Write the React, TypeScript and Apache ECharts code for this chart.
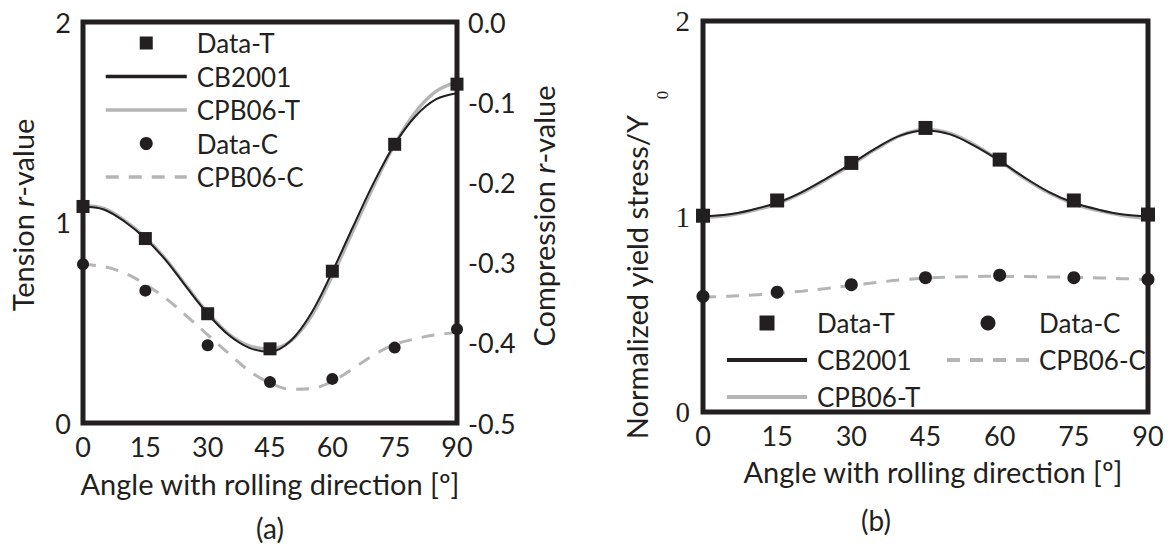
import React, { useEffect, useRef } from "react";
import * as echarts from "echarts";

const angles = [0, 15, 30, 45, 60, 75, 90];
const curveAngles = [0, 5, 10, 15, 20, 25, 30, 35, 40, 45, 50, 55, 60, 65, 70, 75, 80, 85, 90];

// Panel (a): r-values
const rDataT = [1.08, 0.92, 0.545, 0.37, 0.757, 1.39, 1.69];
const rCB2001 = [1.08, 1.065, 1.005, 0.92, 0.81, 0.675, 0.545, 0.44, 0.375, 0.355, 0.41, 0.55, 0.755, 0.98, 1.2, 1.39, 1.53, 1.615, 1.645];
const rCPB06T = [1.085, 1.07, 1.01, 0.925, 0.815, 0.68, 0.55, 0.445, 0.385, 0.37, 0.41, 0.535, 0.735, 0.96, 1.185, 1.39, 1.55, 1.655, 1.7];
const rDataC = [-0.302, -0.335, -0.403, -0.449, -0.445, -0.406, -0.383];
const rCPB06C = [-0.302, -0.305, -0.313, -0.327, -0.345, -0.367, -0.39, -0.413, -0.435, -0.45, -0.458, -0.457, -0.448, -0.432, -0.415, -0.402, -0.395, -0.39, -0.387];

// Panel (b): normalized yield stress
const yDataT = [1.004, 1.082, 1.274, 1.453, 1.291, 1.082, 1.01];
const yCB2001 = [1.0, 1.01, 1.035, 1.07, 1.125, 1.195, 1.27, 1.35, 1.415, 1.44, 1.42, 1.36, 1.285, 1.2, 1.125, 1.07, 1.035, 1.01, 1.0];
const yCPB06T = [0.995, 1.005, 1.03, 1.065, 1.12, 1.19, 1.265, 1.345, 1.415, 1.445, 1.425, 1.365, 1.285, 1.195, 1.12, 1.065, 1.03, 1.005, 0.99];
const yDataC = [0.592, 0.613, 0.651, 0.687, 0.7, 0.687, 0.678];
const yCPB06C = [0.588, 0.592, 0.598, 0.607, 0.618, 0.632, 0.647, 0.662, 0.676, 0.685, 0.69, 0.693, 0.694, 0.693, 0.691, 0.689, 0.686, 0.682, 0.678];

const xTicks = { min: 0, max: 90, interval: 15 };

const INK = "#231f20";
const GRAY = "#b5b5b5";
const FONT = "Lato";
const SQUARE = "path://M0 0H10V10H0Z";
const TICK_SIZE = 27;
const LEGEND_SIZE = 26;
const TITLE_SIZE = 29;

const pairs = (xs: number[], ys: number[]) => xs.map((x, i) => [x, ys[i]]);

export default function App() {
  const ref = useRef<HTMLDivElement>(null);
  useEffect(() => {
    if (!ref.current) return;
    const chart = echarts.init(ref.current, undefined, { renderer: "svg" });

    const xAxisBase = (gridIndex: number) => ({
      type: "value",
      gridIndex,
      ...xTicks,
      axisLine: { show: false },
      axisTick: { show: false },
      splitLine: { show: false },
      axisLabel: { fontSize: TICK_SIZE, fontFamily: FONT, color: INK, margin: 10 },
    });

    const lineSeries = (name: string, xAxisIndex: number, yAxisIndex: number, data: number[][], color: string, width: number, dash?: number[], z = 2) => ({
      name,
      type: "line",
      xAxisIndex,
      yAxisIndex,
      data,
      smooth: 0.35,
      symbol: "none",
      showSymbol: false,
      clip: false,
      z,
      lineStyle: { color, width, type: dash ? dash : "solid" },
      itemStyle: { color: "rgba(0,0,0,0)", borderWidth: 0, borderColor: "rgba(0,0,0,0)" },
    });

    const scatterSeries = (name: string, xAxisIndex: number, yAxisIndex: number, data: number[][], symbol: string, size: number) => ({
      name,
      type: "scatter",
      xAxisIndex,
      yAxisIndex,
      data,
      symbol,
      symbolSize: size,
      clip: false,
      z: 5,
      itemStyle: { color: INK, opacity: 1 },
    });

    const legendText = { fontSize: LEGEND_SIZE, fontFamily: FONT, color: INK, padding: [0, 0, 0, 5] };
    const lineItem = (name: string, width: number) => ({ name, itemStyle: { opacity: 0 }, lineStyle: { width } });

    const option: any = {
      animation: false,
      backgroundColor: "#ffffff",
      grid: [
        { left: 83, top: 22, width: 374, height: 401, show: true, borderWidth: 5, borderColor: INK, backgroundColor: "transparent" },
        { left: 703, top: 21, width: 445, height: 391, show: true, borderWidth: 5, borderColor: INK, backgroundColor: "transparent" },
      ],
      xAxis: [xAxisBase(0), xAxisBase(1)],
      yAxis: [
        {
          type: "value",
          gridIndex: 0,
          min: 0,
          max: 2,
          interval: 1,
          axisLine: { show: false },
          axisTick: { show: false },
          splitLine: { show: false },
          axisLabel: { fontSize: TICK_SIZE, fontFamily: FONT, color: INK, margin: 12 },
        },
        {
          type: "value",
          gridIndex: 0,
          position: "right",
          min: -0.5,
          max: 0,
          interval: 0.1,
          axisLine: { show: false },
          axisTick: { show: false },
          splitLine: { show: false },
          axisLabel: {
            fontSize: TICK_SIZE,
            fontFamily: FONT,
            color: INK,
            margin: 11,
            formatter: (v: number) => (Math.abs(v) < 1e-9 ? "0.0" : v.toFixed(1)),
          },
        },
        {
          type: "value",
          gridIndex: 1,
          min: 0,
          max: 2,
          interval: 1,
          axisLine: { show: false },
          axisTick: { show: false },
          splitLine: { show: false },
          axisLabel: { fontSize: 29, fontFamily: "Liberation Serif", color: INK, margin: 13 },
        },
      ],
      legend: [
        {
          orient: "vertical",
          left: 99,
          top: 25,
          itemWidth: 81,
          itemHeight: 13,
          itemGap: 7.5,
          selectedMode: false,
          textStyle: legendText,
          data: [
            { name: "Data-T", icon: SQUARE },
            lineItem("CB2001", 3.5),
            lineItem("CPB06-T", 3.5),
            { name: "Data-C", icon: "circle" },
            lineItem("CPB06-C", 3.5),
          ],
        },
        {
          orient: "vertical",
          left: 720,
          top: 305,
          itemWidth: 80,
          itemHeight: 15,
          itemGap: 11,
          selectedMode: false,
          textStyle: legendText,
          data: [{ name: "Data-T", icon: SQUARE }, lineItem("CB2001", 4), lineItem("CPB06-T", 4)],
        },
        {
          orient: "vertical",
          left: 940,
          top: 305,
          itemWidth: 82,
          itemHeight: 15,
          itemGap: 11,
          selectedMode: false,
          textStyle: legendText,
          data: [{ name: "Data-C", icon: "circle" }, lineItem("CPB06-C", 4)],
        },
      ],
      series: [
        // Panel (a)
        lineSeries("CPB06-T", 0, 0, pairs(curveAngles, rCPB06T), GRAY, 3.5, undefined, 2),
        lineSeries("CB2001", 0, 0, pairs(curveAngles, rCB2001), INK, 2, undefined, 3),
        lineSeries("CPB06-C", 0, 1, pairs(curveAngles, rCPB06C), GRAY, 3, [13, 10], 2),
        scatterSeries("Data-T", 0, 0, pairs(angles, rDataT), "rect", 13),
        scatterSeries("Data-C", 0, 1, pairs(angles, rDataC), "circle", 12),
        // Panel (b)
        lineSeries("CPB06-T", 1, 2, pairs(curveAngles, yCPB06T), GRAY, 3.5, undefined, 2),
        lineSeries("CB2001", 1, 2, pairs(curveAngles, yCB2001), INK, 2, undefined, 3),
        lineSeries("CPB06-C", 1, 2, pairs(curveAngles, yCPB06C), GRAY, 3, [13, 10], 2),
        scatterSeries("Data-T", 1, 2, pairs(angles, yDataT), "rect", 14),
        scatterSeries("Data-C", 1, 2, pairs(angles, yDataC), "circle", 13),
      ],
      graphic: [
        {
          type: "text",
          x: 22,
          y: 215,
          rotation: Math.PI / 2,
          style: {
            text: "Tension {i|r}-value",
            fontSize: TITLE_SIZE,
            fontFamily: FONT,
            fill: INK,
            align: "center",
            verticalAlign: "middle",
            rich: { i: { fontStyle: "italic", fontSize: TITLE_SIZE, fontFamily: FONT, fill: INK } },
          },
        },
        {
          type: "text",
          x: 543,
          y: 216,
          rotation: Math.PI / 2,
          style: {
            text: "Compression {i|r}-value",
            fontSize: TITLE_SIZE,
            fontFamily: FONT,
            fill: INK,
            align: "center",
            verticalAlign: "middle",
            rich: { i: { fontStyle: "italic", fontSize: TITLE_SIZE, fontFamily: FONT, fill: INK } },
          },
        },
        {
          type: "text",
          x: 636,
          y: 277,
          rotation: Math.PI / 2,
          style: { text: "Normalized yield stress/Y", fontSize: 29, fontFamily: FONT, fill: INK, align: "center", verticalAlign: "middle" },
        },
        {
          type: "text",
          x: 662,
          y: 95,
          rotation: Math.PI / 2,
          style: { text: "0", fontSize: 17, fontFamily: "Liberation Serif", fill: INK, align: "center", verticalAlign: "middle" },
        },
        {
          type: "text",
          x: 270,
          y: 483,
          style: { text: "Angle with rolling direction [º]", fontSize: TITLE_SIZE, fontFamily: FONT, fill: INK, align: "center", verticalAlign: "middle" },
        },
        {
          type: "text",
          x: 933,
          y: 471,
          style: { text: "Angle with rolling direction [º]", fontSize: TITLE_SIZE, fontFamily: FONT, fill: INK, align: "center", verticalAlign: "middle" },
        },
        {
          type: "text",
          x: 270,
          y: 528,
          style: { text: "(a)", fontSize: 28, fontFamily: FONT, fill: INK, align: "center", verticalAlign: "middle" },
        },
        {
          type: "text",
          x: 876,
          y: 520,
          style: { text: "(b)", fontSize: 28, fontFamily: FONT, fill: INK, align: "center", verticalAlign: "middle" },
        },
      ],
    };

    chart.setOption(option);
    return () => chart.dispose();
  }, []);

  return <div ref={ref} style={{ width: 1171, height: 547, position: "absolute", left: 0, top: 0 }} />;
}
